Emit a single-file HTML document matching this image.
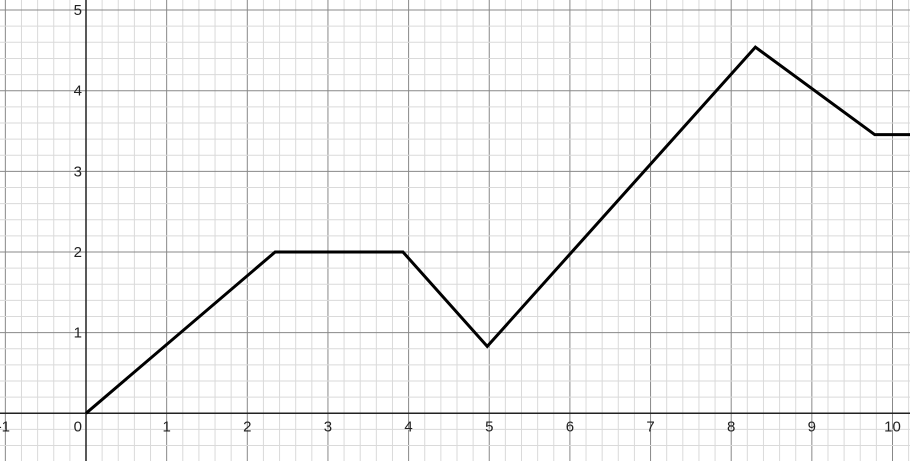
<!DOCTYPE html>
<html><head><meta charset="utf-8"><style>
html,body{margin:0;padding:0;background:#fff;width:910px;height:461px;overflow:hidden}
svg text{font-family:"Liberation Sans",sans-serif;font-size:15px;fill:#222}
</style></head><body>
<svg id="chart" width="910" height="461" xmlns="http://www.w3.org/2000/svg"></svg>
<script>
const xTicks=[-1,0,1,2,3,4,5,6,7,8,9,10];
const yTicks=[0,1,2,3,4,5];
const xVals=[0,2.345,3.93,4.975,8.30,9.78,10.3];
const yVals=[0,2,2,0.83,4.54,3.455,3.455];
const X0=86,Y0=413.3,U=80.65;
const sx=v=>X0+v*U, sy=v=>Y0-v*U;
const svg=document.getElementById('chart');
const NS='http://www.w3.org/2000/svg';
function mk(t,a){const e=document.createElementNS(NS,t);for(const k in a)e.setAttribute(k,a[k]);svg.appendChild(e);return e;}
for(let i=-10;i<=60;i++){const x=sx(i/5);if(x<0||x>910)continue;
 const l=mk('line',{x1:x,x2:x,y1:0,y2:461,stroke:i%5===0?'#888':'#dadada','stroke-width':1});
 
 }
for(let i=-5;i<=30;i++){const y=sy(i/5);if(y<0||y>461)continue;
 const l=mk('line',{x1:0,x2:910,y1:y,y2:y,stroke:i%5===0?'#888':'#dadada','stroke-width':1});
 
 }
const xa=mk('line',{x1:0,x2:910,y1:Y0,y2:Y0,stroke:'#222','stroke-width':1.5});


const ya=mk('line',{x1:X0,x2:X0,y1:0,y2:461,stroke:'#222','stroke-width':1.5});


xTicks.forEach(v=>{const t=mk('text',{x:v===0?X0-4:(v<0?sx(v)-2:sx(v)),y:Y0+18,'text-anchor':v===0?'end':'middle'});t.textContent=v;
 
 });
yTicks.forEach(v=>{if(v===0)return;const t=mk('text',{x:X0-4,y:sy(v)+5,'text-anchor':'end'});t.textContent=v;
 
 });
const pts=xVals.map((x,i)=>sx(x)+','+sy(yVals[i])).join(' ');
const pl=mk('polyline',{points:pts,fill:'none',stroke:'#000','stroke-width':3,'stroke-linejoin':'miter'});


</script>
</body></html>
